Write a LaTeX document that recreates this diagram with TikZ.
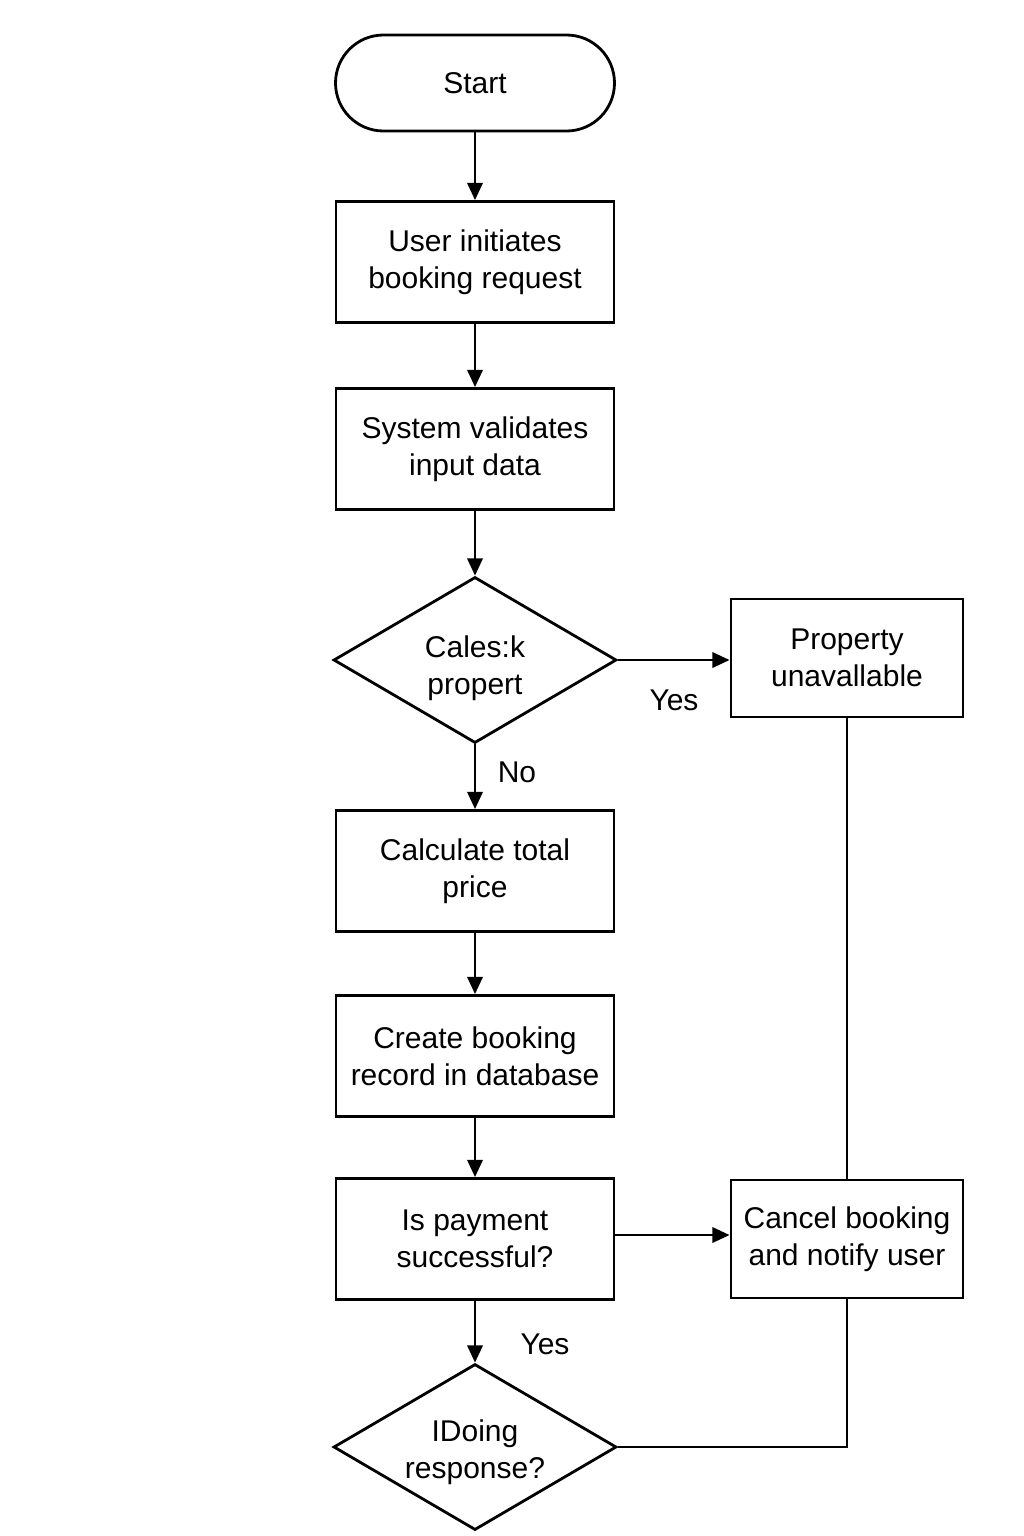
\documentclass[tikz,border=0pt]{standalone}
\usepackage{fontspec}
\setmainfont{Liberation Sans}
\usetikzlibrary{shapes.geometric,arrows.meta}
\begin{document}
\begin{tikzpicture}[x=0.75pt,y=-0.75pt,
  every node/.style={font=\fontsize{22.5}{27.75}\selectfont, align=center, inner sep=0pt},
  proc/.style={draw, line width=2.1pt, minimum width=208.5pt, minimum height=90.75pt},
  side/.style={draw, line width=2.1pt, minimum width=174pt, minimum height=88.5pt},
  term/.style={draw, line width=2.1pt, rounded corners=36pt, minimum width=209.25pt, minimum height=72pt},
  dec/.style={draw, diamond, aspect=1.7, line width=2.1pt, minimum width=212.25pt, minimum height=124.5pt},
  arr/.style={line width=2.1pt, -{Triangle[length=13pt,width=11.5pt]}},
  conn/.style={line width=2.1pt}
]
\fill[white] (0,0) rectangle (1024,1536);
\useasboundingbox (0,0) rectangle (1024,1536);

\node[term] (start) at (475,83) {Start};
\node[proc] (b1) at (475,262) {User initiates\\booking request};
\node[proc] (b2) at (475,449) {System validates\\input data};
\node[dec] (d1) at (475,660) {};
\node (d1t) at (475,668) {Cales:k\\propert};
\node[side] (prop) at (847,658) {Property\\unavallable};
\node[proc] (b3) at (475,871) {Calculate total\\price};
\node[proc] (b4) at (475,1056) {Create booking\\record in database};
\node[proc] (b5) at (475,1239) {Is payment\\successful?};
\node[side] (cancel) at (847,1239) {Cancel booking\\and notify user};
\node[dec] (d2) at (475,1447) {};
\node (d2t) at (475,1452) {IDoing\\response?};

\node (yes1) at (674,700) {Yes};
\node (no1) at (517,772) {No};
\node (yes2) at (545,1344) {Yes};

\draw[arr] (start) -- (b1);
\draw[arr] (b1) -- (b2);
\draw[arr] (b2) -- (d1);
\draw[arr] (d1.east) -- (d1.east -| prop.west);
\draw[arr] (d1) -- (b3);
\draw[arr] (b3) -- (b4);
\draw[arr] (b4) -- (b5);
\draw[arr] ([yshift=3pt]b5.east) -- ([yshift=3pt]cancel.west);
\draw[arr] (b5) -- (d2);
\draw[conn] (prop) -- (cancel);
\draw[conn] (d2.east) -| (cancel.south);
\end{tikzpicture}
\end{document}
